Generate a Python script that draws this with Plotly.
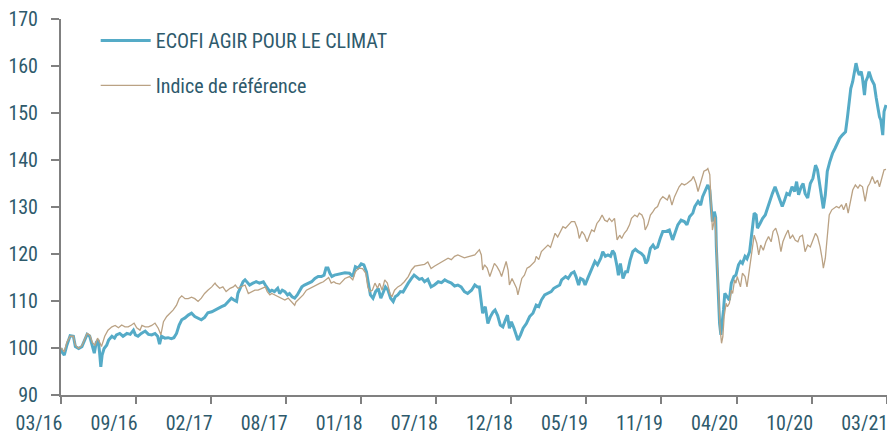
import plotly.graph_objects as go

# Trading-day index (0 = 03/16) and values
fund_days = [
    0, 1, 5, 9, 14, 19, 22, 27, 32, 37,
    40, 44, 48, 51, 54, 57, 59, 61, 63, 66,
    70, 73, 78, 82, 85, 90, 95, 101, 106, 111,
    114, 118, 123, 129, 134, 139, 144, 148, 151, 154,
    159, 164, 169, 173, 177, 181, 185, 190, 195, 200,
    205, 210, 215, 220, 225, 231, 236, 241, 246, 251,
    256, 261, 265, 269, 271, 275, 279, 282, 286, 289,
    294, 299, 304, 310, 313, 316, 320, 323, 327, 332,
    335, 339, 343, 347, 350, 354, 358, 362, 366, 369,
    373, 379, 384, 389, 394, 399, 403, 406, 409, 412,
    415, 419, 427, 435, 442, 447, 451, 455, 460, 464,
    468, 471, 474, 478, 482, 486, 490, 493, 497, 501,
    505, 509, 512, 516, 520, 524, 528, 532, 537, 541,
    544, 549, 553, 557, 562, 567, 572, 578, 583, 588,
    593, 598, 603, 608, 613, 618, 623, 629, 634, 638,
    641, 644, 646, 650, 654, 658, 662, 665, 669, 673,
    677, 681, 684, 687, 690, 694, 698, 700, 704, 708,
    713, 718, 723, 728, 732, 736, 741, 746, 751, 755,
    759, 764, 767, 773, 777, 782, 786, 789, 793, 796,
    800, 803, 807, 811, 815, 818, 822, 827, 830, 834,
    838, 842, 845, 848, 852, 854, 857, 861, 865, 868,
    872, 876, 880, 884, 889, 893, 896, 899, 903, 907,
    910, 914, 918, 922, 927, 932, 937, 941, 945, 950,
    955, 959, 963, 968, 971, 976, 980, 983, 987, 991,
    994, 996, 998, 1001, 1003, 1004, 1006, 1008, 1009, 1011,
    1013, 1015, 1017, 1020, 1024, 1027, 1031, 1034, 1038, 1041,
    1044, 1048, 1051, 1055, 1059, 1062, 1065, 1067, 1071, 1075,
    1079, 1083, 1086, 1090, 1094, 1098, 1102, 1105, 1108, 1112,
    1116, 1120, 1124, 1127, 1130, 1134, 1137, 1140, 1144, 1148,
    1152, 1156, 1159, 1162, 1164, 1168, 1171, 1174, 1178, 1182,
    1186, 1190, 1193, 1197, 1202, 1205, 1208, 1210, 1213, 1216,
    1218, 1221, 1223, 1226, 1228, 1231, 1233, 1236, 1238, 1242,
    1246, 1249, 1251, 1254, 1256, 1259, 1261, 1264,
]
fund_values = [
    100.0, 99.2, 98.5, 100.6, 102.6, 102.5, 100.3, 99.9, 100.3, 101.7,
    102.9, 102.5, 100.6, 98.9, 101.2, 101.7, 99.2, 96.0, 98.5, 99.9,
    100.6, 101.7, 102.5, 102.1, 102.8, 103.1, 102.5, 103.1, 102.9, 103.8,
    102.8, 102.5, 103.1, 103.6, 102.9, 102.8, 103.1, 102.5, 100.8, 102.5,
    102.1, 102.2, 102.0, 102.2, 103.1, 104.9, 106.0, 106.4, 107.0, 107.4,
    106.7, 106.3, 106.0, 106.5, 107.5, 107.7, 108.1, 108.4, 108.8, 109.1,
    109.9, 110.6, 110.2, 109.9, 111.6, 113.0, 114.1, 114.5, 113.8, 113.4,
    113.8, 114.1, 113.8, 114.1, 113.4, 112.7, 112.0, 112.3, 112.0, 112.7,
    111.6, 112.3, 112.0, 111.3, 111.6, 110.9, 110.6, 111.3, 112.3, 113.0,
    113.4, 113.8, 114.1, 114.8, 115.2, 115.2, 115.5, 117.0, 117.0, 115.9,
    115.2, 115.5, 115.7, 116.0, 115.9, 115.2, 117.3, 117.0, 117.9, 117.7,
    116.2, 113.8, 111.3, 110.6, 112.0, 112.7, 110.6, 111.6, 113.0, 112.3,
    110.6, 109.9, 110.9, 111.3, 112.0, 111.9, 113.0, 113.8, 114.8, 115.5,
    115.2, 114.6, 114.8, 114.1, 114.6, 113.0, 113.4, 114.1, 113.9, 114.5,
    114.1, 113.8, 113.2, 113.4, 113.0, 112.0, 111.6, 112.3, 113.4, 113.0,
    113.0, 109.5, 107.4, 108.8, 105.2, 106.7, 107.7, 108.1, 106.9, 104.9,
    104.5, 106.0, 107.0, 104.2, 105.6, 104.2, 102.4, 101.7, 102.8, 104.2,
    105.2, 106.7, 107.4, 109.1, 108.8, 110.2, 111.3, 111.6, 112.0, 112.7,
    113.0, 113.4, 114.5, 115.2, 114.8, 115.9, 116.2, 115.2, 113.4, 114.8,
    114.5, 113.4, 114.8, 116.2, 117.3, 118.4, 117.7, 119.1, 120.5, 119.5,
    119.8, 119.5, 120.7, 120.1, 117.3, 115.5, 118.0, 114.8, 116.2, 116.2,
    118.7, 120.5, 121.0, 120.5, 120.1, 119.5, 118.0, 118.7, 121.2, 121.9,
    121.2, 121.5, 123.3, 124.8, 124.8, 125.1, 123.0, 124.4, 126.2, 127.2,
    126.9, 126.2, 127.9, 128.7, 130.1, 131.2, 130.4, 132.2, 133.3, 134.7,
    133.6, 129.7, 126.9, 129.0, 127.8, 121.6, 115.2, 110.2, 105.2, 102.8,
    104.9, 108.1, 111.6, 111.0, 110.2, 113.8, 115.2, 115.5, 117.7, 118.4,
    118.0, 119.5, 119.0, 120.5, 124.8, 128.7, 128.3, 125.5, 126.5, 127.6,
    128.3, 130.1, 131.2, 132.9, 134.3, 132.9, 131.2, 130.1, 131.2, 132.9,
    132.6, 134.3, 133.3, 135.4, 132.6, 134.3, 135.0, 132.9, 131.9, 135.0,
    136.1, 138.9, 137.9, 135.0, 132.6, 129.7, 132.6, 137.6, 139.7, 141.4,
    142.5, 143.9, 144.6, 145.3, 146.0, 149.2, 153.8, 155.2, 156.7, 158.8,
    160.6, 158.8, 158.1, 158.8, 157.4, 153.8, 156.7, 157.7, 158.8, 157.1,
    156.0, 153.2, 151.5, 149.2, 148.5, 145.3, 150.3, 151.7,
]

bench_days = [
    0, 1, 5, 9, 14, 19, 22, 27, 32, 37,
    40, 44, 48, 52, 56, 60, 62, 67, 72, 78,
    83, 88, 93, 98, 103, 108, 112, 116, 121, 124,
    129, 134, 139, 144, 149, 153, 157, 162, 167, 172,
    177, 181, 185, 190, 195, 200, 205, 210, 215, 220,
    225, 231, 236, 238, 243, 248, 253, 259, 264, 267,
    271, 276, 282, 287, 292, 297, 302, 307, 313, 316,
    320, 323, 327, 333, 338, 343, 348, 353, 358, 360,
    366, 371, 376, 381, 386, 392, 397, 402, 407, 410,
    414, 418, 421, 427, 435, 442, 447, 451, 456, 462,
    467, 470, 473, 477, 481, 485, 488, 492, 496, 500,
    504, 507, 511, 516, 521, 526, 532, 537, 542, 547,
    552, 557, 562, 567, 572, 578, 583, 588, 593, 598,
    603, 608, 613, 618, 623, 629, 634, 639, 641, 644,
    646, 649, 653, 657, 660, 664, 668, 672, 675, 679,
    682, 685, 687, 691, 694, 698, 700, 703, 706, 710,
    714, 718, 721, 726, 728, 732, 736, 741, 746, 750,
    754, 757, 761, 765, 769, 773, 777, 782, 787, 791,
    794, 798, 802, 806, 810, 813, 817, 821, 825, 829,
    833, 837, 840, 844, 848, 852, 856, 859, 863, 867,
    871, 874, 879, 883, 886, 890, 893, 895, 899, 903,
    907, 910, 914, 918, 922, 925, 929, 932, 936, 940,
    944, 947, 951, 955, 959, 963, 966, 969, 973, 976,
    979, 982, 985, 989, 991, 994, 996, 998, 1000, 1002,
    1004, 1006, 1008, 1010, 1012, 1014, 1016, 1019, 1021, 1024,
    1027, 1029, 1032, 1034, 1036, 1041, 1044, 1048, 1051, 1055,
    1059, 1062, 1066, 1069, 1072, 1076, 1080, 1084, 1088, 1091,
    1095, 1099, 1103, 1106, 1110, 1114, 1117, 1121, 1125, 1129,
    1132, 1136, 1140, 1144, 1148, 1152, 1156, 1159, 1163, 1166,
    1168, 1171, 1174, 1177, 1181, 1185, 1188, 1192, 1196, 1199,
    1203, 1206, 1210, 1213, 1217, 1221, 1224, 1228, 1232, 1236,
    1239, 1243, 1247, 1251, 1254, 1256, 1259, 1261, 1264,
]
bench_values = [
    100.0, 99.9, 99.2, 101.2, 102.5, 102.5, 100.6, 99.9, 100.5, 102.1,
    103.1, 102.8, 101.2, 100.6, 102.1, 101.0, 100.3, 102.5, 103.8, 104.5,
    104.8, 104.3, 104.9, 104.5, 104.5, 104.9, 105.3, 104.3, 103.8, 104.8,
    104.5, 104.5, 104.8, 105.3, 104.2, 102.8, 105.6, 106.7, 107.4, 108.1,
    109.1, 110.5, 111.1, 110.5, 110.5, 110.8, 110.5, 109.9, 110.6, 111.6,
    112.3, 113.0, 113.8, 113.4, 112.7, 113.0, 112.0, 112.7, 113.0, 113.4,
    112.7, 113.0, 113.4, 111.6, 111.9, 112.3, 112.3, 112.7, 113.0, 112.0,
    111.3, 111.6, 111.3, 110.9, 110.6, 110.2, 110.6, 109.9, 109.1, 109.8,
    110.6, 111.3, 112.3, 112.7, 113.0, 113.4, 113.8, 114.1, 114.8, 115.0,
    113.8, 114.1, 113.8, 113.6, 114.8, 115.2, 114.5, 116.2, 117.0, 116.9,
    115.9, 113.0, 112.0, 112.3, 113.8, 112.7, 113.8, 112.3, 114.5, 113.8,
    111.6, 110.9, 112.3, 113.0, 113.4, 114.1, 115.2, 116.6, 117.4, 117.5,
    117.7, 117.8, 118.3, 116.9, 117.4, 117.9, 118.3, 118.8, 119.1, 118.8,
    119.5, 119.8, 119.5, 119.2, 119.4, 119.7, 119.8, 120.6, 120.9, 119.8,
    116.6, 117.7, 117.0, 115.2, 116.6, 118.0, 117.3, 116.3, 115.2, 117.3,
    118.4, 116.6, 113.4, 114.8, 113.8, 112.7, 111.3, 113.4, 114.8, 115.5,
    117.0, 117.3, 117.7, 118.4, 119.5, 118.8, 120.5, 121.2, 121.9, 121.4,
    123.0, 124.4, 123.6, 124.8, 125.8, 125.5, 126.2, 126.9, 126.9, 125.5,
    123.3, 124.8, 124.1, 122.6, 124.1, 125.1, 124.8, 126.5, 127.2, 128.3,
    127.2, 126.9, 127.6, 126.9, 127.6, 123.0, 124.0, 123.3, 124.4, 125.1,
    126.2, 127.6, 128.3, 127.9, 128.7, 128.3, 127.3, 125.1, 126.2, 128.3,
    129.0, 129.7, 130.1, 131.5, 132.2, 131.9, 131.5, 132.6, 130.4, 132.2,
    133.6, 134.3, 135.0, 134.7, 135.0, 135.4, 135.8, 136.5, 135.0, 133.3,
    134.7, 136.5, 137.6, 137.9, 138.2, 136.9, 132.2, 125.1, 126.5, 127.9,
    122.3, 115.2, 109.5, 103.8, 101.0, 102.4, 106.7, 109.5, 108.8, 109.5,
    112.3, 111.6, 114.5, 113.8, 115.2, 113.0, 115.9, 115.2, 113.0, 117.3,
    120.5, 124.0, 122.3, 119.8, 121.9, 120.8, 122.6, 123.7, 122.6, 124.8,
    125.5, 123.7, 120.5, 122.6, 124.0, 125.1, 123.3, 124.0, 122.9, 122.6,
    123.7, 124.0, 120.5, 121.9, 121.5, 123.0, 124.4, 123.7, 121.5, 119.1,
    117.0, 119.1, 123.3, 128.3, 129.4, 129.8, 130.1, 129.8, 130.5, 129.4,
    130.8, 128.7, 131.9, 133.6, 134.7, 134.0, 134.7, 134.3, 131.2, 134.3,
    135.0, 136.5, 135.0, 135.7, 134.3, 135.4, 136.8, 137.9, 138.0,
]

tick_days = [0, 115, 230, 345, 460, 575, 690, 805, 920, 1035, 1150, 1265]
tick_labels = ["03/16", "09/16", "02/17", "08/17", "01/18", "07/18",
               "12/18", "05/19", "11/19", "04/20", "10/20", "03/21"]
y_ticks = [90, 100, 110, 120, 130, 140, 150, 160, 170]

FONT = "Liberation Sans Narrow, Roboto Condensed, DejaVu Sans Condensed, sans-serif"
TEXT = "#2e5a6c"
AXIS = "#808080"
X_RANGE = [0, 1265.5]
Y_RANGE = [90, 170]

fig = go.Figure()
fig.add_trace(go.Scatter(
    x=fund_days, y=fund_values, mode="lines", name="ECOFI AGIR POUR LE CLIMAT",
    line=dict(color="#55abc7", width=3), legendgroup="a"))
fig.add_trace(go.Scatter(
    x=bench_days, y=bench_values, mode="lines", name="Indice de référence",
    line=dict(color="#baa284", width=1.3), legendgroup="b"))

common_x = dict(range=X_RANGE, tickmode="array", tickvals=tick_days, automargin=False,
                showgrid=False, zeroline=False, tickcolor=AXIS, tickwidth=2, ticklen=7)
common_y = dict(range=Y_RANGE, tickmode="array", tickvals=y_ticks, automargin=False,
                showgrid=False, zeroline=False, tickcolor=AXIS, tickwidth=2, ticklen=8)

fig.update_layout(
    width=887, height=435,
    margin=dict(l=61, r=0, t=19, b=40),
    paper_bgcolor="white", plot_bgcolor="white",
    font=dict(family=FONT, size=20, color=TEXT),
    showlegend=True,
    legend=dict(x=0.042, y=0.995, xanchor="left", yanchor="top",
                bgcolor="rgba(0,0,0,0)", font=dict(size=20, color=TEXT),
                tracegroupgap=16, itemwidth=50),
    xaxis=dict(**common_x, ticktext=tick_labels, ticks="outside",
               showline=True, linecolor=AXIS, linewidth=2,
               ticklabelshift=-22, ticklabelstandoff=2, ticklabeloverflow="allow",
               tickfont=dict(family=FONT, size=20, color=TEXT)),
    yaxis=dict(**common_y, ticks="outside", showline=True, linecolor=AXIS, linewidth=2,
               ticklabelstandoff=9,
               tickfont=dict(family=FONT, size=20, color=TEXT)),
    xaxis2=dict(**common_x, overlaying="x", anchor="y", side="bottom", ticks="inside",
                showticklabels=False, showline=False),
    yaxis2=dict(**common_y, overlaying="y", anchor="x", side="left", ticks="inside",
                showticklabels=False, showline=False),
)

fig.write_html("out.html", config={"displayModeBar": False},
               post_script="document.body.style.margin='0';")
